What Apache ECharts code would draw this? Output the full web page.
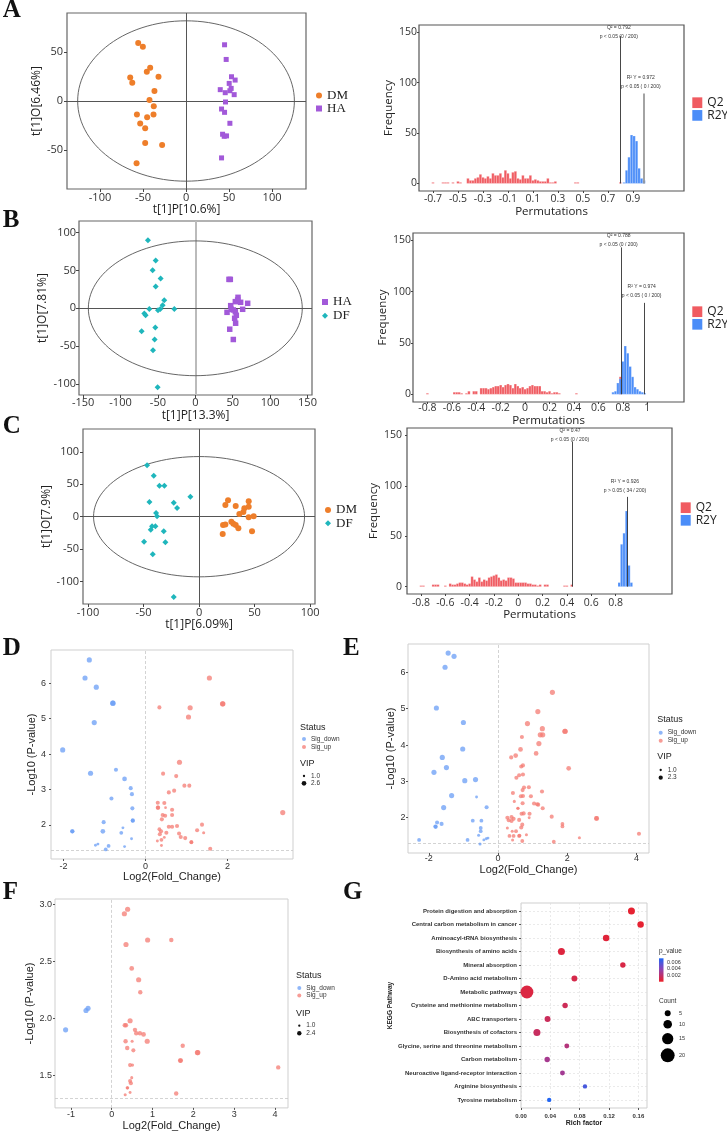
<!DOCTYPE html>
<html><head><meta charset="utf-8">
<script src="https://cdn.jsdelivr.net/npm/echarts@6/dist/echarts.min.js"></script>
<style>html,body{margin:0;padding:0;background:#fff}#c{width:727px;height:1132px}</style>
</head><body><div id="c"></div><script>
// ---------------- DATA ----------------
const pcaA_DM = [[-55.6,59.2],[-50.2,55.4],[-64.9,24.1],[-62.5,18.7],[-45.6,29.9],[-41.7,34.0],[-32.0,24.8],[-36.7,10.2],[-42.5,1.0],[-37.5,-5.4],[-57.1,-13.9],[-45.2,-16.7],[-37.8,-13.9],[-53.3,-23.1],[-47.5,-27.9],[-47.5,-42.9],[-27.8,-44.9],[-57.5,-63.6]];
const pcaA_HA = [[44.8,57.5],[46.7,42.5],[52.9,24.8],[57.1,21.4],[50.2,18.0],[39.8,11.6],[45.6,8.5],[51.0,10.5],[52.5,12.9],[56.0,6.5],[45.9,-1.0],[41.3,-8.2],[44.8,-11.6],[51.0,-22.8],[42.5,-34.0],[47.1,-35.7],[44.4,-36.1],[41.3,-58.2]];
const pcaB_HA = [[45.0,38.2],[46.8,38.2],[57.1,14.5],[53.5,8.8],[47.3,3.5],[60.6,7.9],[70.0,6.6],[63.3,-1.3],[50.8,-2.2],[53.5,-4.4],[42.4,-5.3],[54.8,-9.2],[52.6,-13.2],[53.9,-19.7],[46.0,-27.6],[50.8,-41.2],[48.0,-1.3],[56.6,11.0]];
const pcaB_DF = [[-63.3,89.9],[-53.0,63.2],[-57.1,50.4],[-46.4,39.5],[-53.0,28.9],[-41.5,10.5],[-43.7,3.9],[-61.5,-0.9],[-46.8,-0.9],[-49.9,-2.6],[-28.1,-0.9],[-68.2,-7.0],[-66.4,-9.2],[-53.5,-25.4],[-71.8,-30.3],[-54.4,-41.2],[-56.6,-55.3],[-50.4,-104.4]];
const pcaC_DM = [[26.1,25.3],[23.7,18.0],[44.7,23.7],[33.0,16.5],[40.8,12.9],[44.7,15.5],[39.9,7.2],[36.3,4.1],[49.2,0.5],[44.7,-1.0],[29.1,-7.7],[30.9,-10.8],[21.6,-12.9],[23.7,-11.9],[33.0,-12.9],[35.4,-18.0],[21.3,-26.8],[47.7,-22.7]];
const pcaC_DF = [[-46.8,79.4],[-40.8,63.4],[-35.7,47.9],[-31.2,47.9],[-7.8,30.9],[-44.7,22.7],[-22.8,21.6],[-19.8,13.4],[-38.7,5.7],[-37.8,0.5],[-42.3,-14.9],[-39.3,-14.9],[-43.5,-20.1],[-31.8,-22.7],[-49.5,-38.7],[-30.3,-39.7],[-41.7,-58.2],[-22.8,-124.2]];
const ellipseA = [126, 82];
const ellipseB = [143, 89];
const ellipseC = [95, 93];
const pcaA_xTicks = [-100,-50,0,50,100], pcaA_yTicks = [-50,0,50];
const pcaB_xTicks = [-150,-100,-50,0,50,100,150], pcaB_yTicks = [-100,-50,0,50,100];
const pcaC_xTicks = [-100,-50,0,50,100], pcaC_yTicks = [-100,-50,0,50,100];

const binWidth = 0.02;
const histA_Q2 = [[-0.70,1],[-0.62,1],[-0.60,1],[-0.58,1],[-0.54,1],[-0.50,2],[-0.48,1],
 [-0.42,5],[-0.40,3],[-0.38,3],[-0.36,5],[-0.34,6],[-0.32,9],[-0.30,6],[-0.28,5],[-0.26,7],[-0.24,5],[-0.22,10],[-0.20,8],[-0.18,8],[-0.16,10],[-0.14,6],[-0.12,13],[-0.10,10],[-0.08,5],[-0.06,11],[-0.04,12],[-0.02,5],[0.00,4],[0.02,8],[0.04,5],[0.06,5],[0.08,8],[0.10,3],[0.12,4],[0.14,3],[0.16,2],[0.18,2],[0.20,2],[0.22,5],[0.24,1],[0.26,1],[0.28,2],
 [0.44,1],[0.46,1],[0.80,1]];
const histA_R2Y = [[0.83,1],[0.85,13],[0.87,26],[0.89,48],[0.91,47],[0.93,42],[0.95,15],[0.97,5],[0.99,3]];
const histB_Q2 = [[-0.80,1],[-0.58,2],[-0.56,2],[-0.54,2],[-0.52,1],[-0.48,1],[-0.46,3],[-0.42,3],[-0.40,3],
 [-0.36,6],[-0.34,6],[-0.32,6],[-0.30,5],[-0.28,6],[-0.26,7],[-0.24,8],[-0.22,8],[-0.20,9],[-0.18,7],[-0.16,9],[-0.14,10],[-0.12,9],[-0.10,6],[-0.08,10],[-0.06,8],[-0.04,6],[-0.02,7],[0.00,5],[0.02,6],[0.04,8],[0.06,9],[0.08,8],[0.10,8],[0.12,8],[0.14,3],[0.16,3],[0.18,2],[0.20,3],[0.22,1],[0.24,2],[0.26,2],[0.28,1],
 [0.42,1],[0.78,17]];
const histB_R2Y = [[0.72,2],[0.74,3],[0.76,11],[0.78,15],[0.80,32],[0.82,47],[0.84,40],[0.86,27],[0.88,17],[0.90,7],[0.92,5],[0.94,3],[0.96,2],[0.98,1]];
const histC_Q2 = [[-0.80,1],[-0.78,1],[-0.70,2],[-0.68,2],[-0.66,2],[-0.60,1],[-0.56,3],[-0.54,2],[-0.52,2],[-0.50,3],[-0.48,4],[-0.46,4],[-0.44,3],[-0.42,2],[-0.40,3],
 [-0.38,10],[-0.36,7],[-0.34,5],[-0.32,9],[-0.30,5],[-0.28,7],[-0.26,6],[-0.24,9],[-0.22,10],[-0.20,11],[-0.18,12],[-0.16,9],[-0.14,6],[-0.12,7],[-0.10,6],[-0.08,9],[-0.06,9],[-0.04,8],[-0.02,4],[0.00,4],[0.02,4],[0.04,4],[0.06,4],[0.08,3],[0.10,3],[0.12,2],[0.14,2],[0.16,1],[0.18,2],[0.22,2],[0.24,2],
 [0.38,1],[0.40,1],[0.44,2]];
const histC_R2Y = [[0.83,4],[0.85,42],[0.87,53],[0.89,75],[0.91,21],[0.93,4]];
const histA_xTicks = [-0.7,-0.5,-0.3,-0.1,0.1,0.3,0.5,0.7,0.9];
const histB_xTicks = [-0.8,-0.6,-0.4,-0.2,0,0.2,0.4,0.6,0.8,1];
const histC_xTicks = [-0.8,-0.6,-0.4,-0.2,0,0.2,0.4,0.6,0.8];
const hist_yTicks = [0,50,100,150];
// permutation test lines: [lineX, lineTop, labelX, labelY, line1, line2]
const permA_Q2 = [0.803, 146, 0.788, 150, 'Q² = 0.792', 'p < 0.05 (0 / 200)'];
const permA_R2 = [0.985, 89, 0.964, 100, 'R² Y = 0.972', 'p < 0.05 ( 0 / 200)'];
const permB_Q2 = [0.787, 143, 0.766, 150, 'Q² = 0.788', 'p < 0.05 (0 / 200)'];
const permB_R2 = [0.976, 89, 0.954, 100, 'R² Y = 0.974', 'p < 0.05 ( 0 / 200)'];
const permC_Q2 = [0.447, 144, 0.425, 150, 'Q² = 0.47', 'p < 0.05 (0 / 200)'];
const permC_R2 = [0.896, 89, 0.877, 100, 'R² Y = 0.926', 'p > 0.05 ( 34 / 200)'];

const pThreshold = 1.301;
// volcano points: [log2FC, -log10 p, VIP]
const volD_down = [[-1.37,6.66,2.9],[-1.475,6.15,2.9],[-1.2,5.89,2.9],[-0.79,5.44,2.9],[-0.80,5.44,2.9],[-1.25,4.89,2.9],[-2.02,4.12,2.9],[-1.34,3.46,2.9],[-0.72,3.56,2.2],[-0.51,3.30,2.6],[-0.36,3.04,2.2],[-0.33,2.87,2.2],[-0.83,2.75,2.2],[-0.32,2.47,2.2],[-0.31,2.12,2.2],[-0.31,2.13,2.2],[-1.02,2.08,2.2],[-1.78,1.82,2.2],[-1.79,1.82,2.2],[-1.04,1.82,2.6],[-0.59,1.78,2.0],[-0.55,1.92,1.4],[-0.34,1.61,1.4],[-1.16,1.46,1.4],[-1.22,1.43,1.4],[-0.90,1.41,2.0],[-0.97,1.31,2.0],[-0.51,1.39,1.4]];
const volD_up = [[1.56,6.15,2.9],[1.88,5.42,2.9],[1.89,5.42,2.9],[0.34,5.32,2.2],[1.09,5.31,2.9],[1.05,5.05,2.9],[0.83,3.77,2.9],[0.43,3.45,2.2],[0.75,3.38,2.2],[0.95,3.11,2.2],[1.07,3.11,2.2],[0.70,2.97,2.2],[0.57,2.92,2.2],[0.30,2.63,2.2],[0.46,2.62,2.2],[0.30,2.49,2.2],[0.31,2.49,2.2],[0.49,2.49,1.3],[0.65,2.43,2.2],[3.35,2.35,2.9],[0.42,2.28,2.2],[0.48,2.26,2.2],[0.65,2.28,2.2],[0.40,2.16,2.2],[0.57,1.95,2.2],[0.65,1.95,2.2],[0.77,1.97,2.2],[1.38,2.01,2.2],[0.38,1.82,2.2],[0.51,1.78,2.2],[0.82,1.76,2.2],[1.26,1.85,2.2],[1.42,1.78,1.5],[0.35,1.74,2.2],[0.86,1.66,2.2],[0.97,1.63,2.2],[0.46,1.65,1.4],[0.29,1.55,1.4],[0.39,1.58,2.0],[1.12,1.51,2.0],[1.12,1.52,2.0],[0.39,1.42,1.4],[1.58,1.33,2.2],[0.34,1.88,2.0]];
const volE_down = [[-1.44,6.53,2.9],[-1.27,6.44,2.9],[-1.53,6.14,2.9],[-1.78,5.02,2.9],[-1.0,4.62,2.9],[-1.02,3.89,2.9],[-1.61,3.66,2.9],[-1.49,3.38,2.9],[-1.85,3.25,2.9],[-0.96,3.02,2.9],[-0.65,3.05,2.9],[-1.34,2.61,2.9],[-0.62,2.57,1.4],[-1.57,2.28,2.9],[-0.33,2.29,2.2],[-1.76,1.87,2.2],[-1.63,1.83,2.2],[-1.80,1.75,2.2],[-1.81,1.76,2.2],[-0.73,1.92,2.0],[-0.48,1.92,2.0],[-0.50,1.72,2.0],[-0.50,1.63,2.0],[-0.56,1.52,1.5],[-2.28,1.39,2.0],[-0.88,1.39,2.0],[-0.41,1.39,1.4],[-0.34,1.42,1.4],[-0.29,1.44,1.4],[-0.52,1.28,1.5]];
const volE_up = [[1.57,5.45,2.9],[1.15,4.92,2.9],[0.85,4.59,2.9],[1.28,4.45,2.9],[1.22,4.28,2.9],[1.29,4.28,2.9],[1.93,4.38,2.9],[1.94,4.38,2.9],[0.69,4.22,2.2],[1.18,4.04,2.9],[0.65,3.88,2.6],[1.10,3.77,2.6],[0.38,3.66,2.2],[0.51,3.71,2.6],[0.67,3.41,2.2],[0.72,3.44,2.2],[2.04,3.36,2.6],[0.61,3.17,2.2],[0.72,3.19,2.2],[0.53,3.10,2.2],[0.75,2.83,2.2],[0.89,2.84,2.2],[0.71,2.76,2.2],[0.43,2.68,2.2],[1.27,2.72,2.2],[0.66,2.59,2.2],[0.72,2.60,2.2],[0.95,2.59,2.2],[0.47,2.45,1.5],[0.71,2.40,2.2],[1.04,2.39,2.2],[1.13,2.37,2.2],[1.16,2.36,2.2],[1.29,2.26,2.2],[0.57,2.26,1.5],[0.58,2.26,1.5],[0.68,2.11,2.2],[0.74,2.12,2.2],[0.91,2.11,2.2],[0.90,2.00,1.4],[0.27,2.00,2.2],[0.31,1.93,2.2],[0.39,2.02,2.2],[0.39,1.91,2.2],[0.45,1.97,2.2],[0.61,1.94,2.2],[0.70,1.81,2.2],[0.67,1.73,2.2],[0.27,1.72,1.5],[0.41,1.63,1.5],[0.52,1.63,2.0],[0.33,1.50,2.0],[0.45,1.50,2.0],[0.61,1.50,2.0],[0.62,1.51,2.0],[0.82,1.53,1.5],[0.42,1.39,1.5],[0.70,1.36,2.0],[1.55,2.03,2.2],[1.86,1.83,2.0],[1.86,1.76,2.0],[2.84,1.98,2.6],[2.85,1.98,2.6],[2.35,1.45,1.5],[1.61,1.34,2.0],[4.07,1.56,2.2]];
const volF_down = [[-0.58,2.09,2.9],[-0.63,2.07,2.9],[-1.13,1.90,2.9]];
const volF_up = [[0.39,2.96,2.9],[0.31,2.92,2.9],[0.88,2.69,2.9],[1.46,2.69,2.4],[0.35,2.65,2.9],[0.49,2.44,2.6],[0.66,2.34,2.9],[0.70,2.23,2.4],[0.45,1.98,2.9],[0.32,1.94,2.4],[0.35,1.94,2.4],[0.57,1.90,2.4],[0.60,1.87,2.4],[0.69,1.87,2.4],[0.78,1.86,2.6],[0.87,1.80,2.9],[0.34,1.80,2.4],[0.50,1.80,1.5],[0.38,1.74,2.4],[0.53,1.72,2.2],[1.74,1.76,2.4],[2.10,1.70,2.9],[2.11,1.70,2.9],[1.68,1.63,2.6],[1.69,1.63,2.6],[0.45,1.59,2.2],[0.51,1.59,1.5],[4.08,1.57,2.4],[0.49,1.48,1.5],[0.45,1.45,2.2],[0.47,1.43,2.2],[0.38,1.39,1.6],[0.39,1.39,1.6],[0.45,1.35,1.4],[1.58,1.34,2.4],[0.33,1.33,1.5]];
const volD_xTicks = [-2,0,2], volD_yTicks = [2,3,4,5,6];
const volE_xTicks = [-2,0,2,4], volE_yTicks = [2,3,4,5,6];
const volF_xTicks = [-1,0,1,2,3,4], volF_yTicks = [1.5,2.0,2.5,3.0];
const vipLegendD = [1.0, 2.6], vipLegendE = [1.0, 2.3], vipLegendF = [1.0, 2.4];

const keggPathways = ['Protein digestion and absorption','Central carbon metabolism in cancer','Aminoacyl-tRNA biosynthesis','Biosynthesis of amino acids','Mineral absorption','D-Amino acid metabolism','Metabolic pathways','Cysteine and methionine metabolism','ABC transporters','Biosynthesis of cofactors','Glycine, serine and threonine metabolism','Carbon metabolism','Neuroactive ligand-receptor interaction','Arginine biosynthesis','Tyrosine metabolism'];
const keggRich = [0.1505,0.163,0.116,0.0551,0.1388,0.0728,0.0081,0.0601,0.0362,0.0217,0.0624,0.0357,0.0565,0.0872,0.0384];
const keggCount = [7,6,6,7,4,5,18,4,5,7,3,4,3,2,2];
const keggP = [0.0003,0.0003,0.0005,0.0006,0.0008,0.0009,0.0007,0.0012,0.0013,0.0014,0.0021,0.0026,0.0027,0.0058,0.0071];
const kegg_xTicks = [0,0.04,0.08,0.12,0.16];
const keggColorTicks = [0.006,0.004,0.002];
const keggCountLegend = [5,10,15,20];

// ---------------- STYLE ----------------
const SANS = '"Open Sans", "Noto Sans", sans-serif';
const ARIAL = '"Liberation Sans", Arial, sans-serif';
const SERIF = '"Liberation Serif", "Times New Roman", serif';
const C_DM = '#EE7E2A', C_HA = '#A259D9', C_DF = '#1FB6BC';
const C_Q2 = '#F05B61', C_R2 = '#4B8DF8';
const C_DOWN = '#6A9EF5', C_UP = '#F47B73';
const vipSize = v => 2.3 + 1.5 * (v - 1);
const countSize = c => 3.3 + 0.53 * c;

const grids = [], xAxes = [], yAxes = [], series = [], legends = [], graphics = [];

function vAxis(gi, o) {
  return {
    gridIndex: gi, type: 'value', min: o.min, max: o.max, inverse: !!o.inverse,
    name: o.name, nameLocation: 'middle', nameGap: o.nameGap,
    nameTextStyle: {fontFamily: o.font, fontSize: o.nameSize, color: '#222', fontWeight: o.nameWeight || 'normal'},
    axisLine: {show: false, onZero: false},
    axisTick: {show: true, length: o.tickLen || 3, lineStyle: {color: o.tickColor || '#444', width: 1}, customValues: o.ticks},
    axisLabel: Object.assign({show: true, customValues: o.ticks, margin: o.margin, fontFamily: o.font, fontSize: o.labelSize, color: '#333', fontWeight: o.labelWeight || 'normal'}, o.formatter ? {formatter: o.formatter} : {}),
    splitLine: {show: false}
  };
}

// ---------- PCA ----------
function pcaPanel(g, xr, yr, xt, yt, xname, yname, gaps, s1, s2, ell, vLineStyle, leg) {
  grids.push({left: g[0], top: g[1], width: g[2], height: g[3], show: true, borderColor: '#666', borderWidth: 1.2, backgroundColor: '#fff'});
  const gi = grids.length - 1;
  xAxes.push(vAxis(gi, {min: xr[0], max: xr[1], ticks: xt, name: xname, nameGap: gaps[0], font: SANS, nameSize: 12, labelSize: 11, margin: gaps[2]}));
  yAxes.push(vAxis(gi, {min: yr[0], max: yr[1], ticks: yt, name: yname, nameGap: gaps[1], font: SANS, nameSize: 12, labelSize: 11, margin: gaps[3]}));
  series.push({type: 'custom', xAxisIndex: gi, yAxisIndex: gi, data: [ell], silent: true, z: 1,
    renderItem: (p, api) => {
      const a = api.value(0), b = api.value(1), pts = [];
      for (let k = 0; k <= 120; k++) { const t = k / 120 * 2 * Math.PI; pts.push(api.coord([a * Math.cos(t), b * Math.sin(t)])); }
      return {type: 'polyline', shape: {points: pts}, style: {fill: null, stroke: '#555', lineWidth: 0.9}};
    }});
  [s1, s2].forEach((s, i) => {
    const ser = {type: 'scatter', name: s.name, xAxisIndex: gi, yAxisIndex: gi, data: s.data, symbol: s.symbol, symbolSize: s.size, itemStyle: {color: s.color, opacity: 1}, z: 3};
    if (i === 0) ser.markLine = {silent: true, z: 1, symbol: ['none', 'none'], label: {show: false}, lineStyle: {color: '#555', width: 1, type: 'solid'},
      data: [Object.assign({xAxis: 0}, vLineStyle ? {lineStyle: vLineStyle} : {}), {yAxis: 0}]};
    series.push(ser);
  });
  legends.push({left: leg[0], top: leg[1], orient: 'vertical', padding: 0, itemGap: leg[3], itemWidth: 6, itemHeight: 6, selectedMode: false,
    data: [s1.name, s2.name], textStyle: {fontFamily: SERIF, fontSize: 13, color: '#222', lineHeight: leg[2]}});
}

pcaPanel([67, 13, 239, 176], [-138.4, 139.5], [-90, 90], pcaA_xTicks, pcaA_yTicks, 't[1]P[10.6%]', 't[1]O[6.46%]', [15, 21, 3, 4],
  {name: 'DM', data: pcaA_DM, symbol: 'circle', size: 6, color: C_DM}, {name: 'HA', data: pcaA_HA, symbol: 'rect', size: 5, color: C_HA}, ellipseA, null, [316, 89, 12, 0]);
pcaPanel([79, 221, 233, 174], [-155.5, 156], [-114.5, 115.3], pcaB_xTicks, pcaB_yTicks, 't[1]P[13.3%]', 't[1]O[7.81%]', [14, 30, 2.5, 3],
  {name: 'HA', data: pcaB_HA, symbol: 'rect', size: 5.5, color: C_HA}, {name: 'DF', data: pcaB_DF, symbol: 'diamond', size: 6, color: C_DF}, ellipseB, {color: '#bbb', width: 2}, [322, 295.5, 13, 0.7]);
pcaPanel([83, 429, 232, 175], [-104.5, 104.4], [-135, 135.6], pcaC_xTicks, pcaC_yTicks, 't[1]P[6.09%]', 't[1]O[7.9%]', [15, 26.5, 3, 4],
  {name: 'DM', data: pcaC_DM, symbol: 'circle', size: 6, color: C_DM}, {name: 'DF', data: pcaC_DF, symbol: 'diamond', size: 6, color: C_DF}, ellipseC, null, [325, 503.4, 13, 0.3]);

// ---------- Permutation histograms ----------
function histSeries(gi, name, data, color) {
  return {type: 'custom', name, xAxisIndex: gi, yAxisIndex: gi, data, itemStyle: {color}, z: 2,
    renderItem: (p, api) => {
      const x = api.value(0), c = api.value(1);
      const a = api.coord([x - binWidth / 2, c]), b = api.coord([x + binWidth / 2, 0]);
      return {type: 'rect', shape: {x: a[0], y: a[1], width: b[0] - a[0], height: b[1] - a[1]}, style: {fill: color, stroke: 'rgba(255,255,255,0.55)', lineWidth: 0.4}};
    }};
}
function permPanel(g, xr, yr, xt, q2data, r2data, q2, r2, r2color, gaps, leg) {
  grids.push({left: g[0], top: g[1], width: g[2], height: g[3], show: true, borderColor: '#555', borderWidth: 1.2, backgroundColor: '#fff'});
  const gi = grids.length - 1;
  xAxes.push(vAxis(gi, {min: xr[0], max: xr[1], ticks: xt, name: 'Permutations', nameGap: gaps[0], font: SANS, nameSize: 11.5, labelSize: 10.5, margin: gaps[2], tickLen: 2}));
  yAxes.push(vAxis(gi, {min: yr[0], max: yr[1], ticks: hist_yTicks, name: 'Frequency', nameGap: gaps[1], font: SANS, nameSize: 11.5, labelSize: 10.5, margin: gaps[3], tickLen: 2}));
  series.push(histSeries(gi, 'Q2', q2data, C_Q2));
  series.push(histSeries(gi, 'R2Y', r2data, C_R2));
  const lines = [[q2, '#333', 0.9], [r2, r2color, r2color === '#333' ? 0.9 : 1.8]];
  series.push({type: 'line', xAxisIndex: gi, yAxisIndex: gi, data: [], silent: true, z: 4,
    markLine: {silent: true, z: 6, symbol: ['none', 'arrow'], symbolSize: [0, 4], label: {show: false},
      data: lines.map(l => [{coord: [l[0][0], l[0][1]], lineStyle: {color: l[1], width: l[2], type: 'solid'}}, {coord: [l[0][0], 0]}])},
    markPoint: {silent: true, z: 7, data: lines.map(l => ({coord: [l[0][2], l[0][3]], symbol: 'rect', symbolSize: 1, itemStyle: {color: 'rgba(0,0,0,0)'},
      label: {show: true, position: 'inside', formatter: l[0][4] + '\n' + l[0][5], fontSize: 5, lineHeight: 9, color: '#333', fontFamily: ARIAL}}))}
  });
  legends.push({left: leg[0], top: leg[1], orient: 'vertical', padding: 0, itemGap: leg[2], itemWidth: 10, itemHeight: 10.7, selectedMode: false,
    data: [{name: 'Q2', icon: 'rect'}, {name: 'R2Y', icon: 'rect'}], textStyle: {fontFamily: SANS, fontSize: 12, color: '#222', lineHeight: 11}});
}
permPanel([419, 25, 265, 166], [-0.812, 1.31], [-7.5, 157], histA_xTicks, histA_Q2, histA_R2Y, permA_Q2, permA_R2, '#9a9a9a', [13, 22.7, 3, 2], [692.3, 96.7, 0.7]);
permPanel([413, 233, 271, 169], [-0.918, 1.301], [-7.5, 157], histB_xTicks, histB_Q2, histB_R2Y, permB_Q2, permB_R2, '#333', [8.8, 17, 1, 2], [692.3, 305.7, 0.6]);
permPanel([407, 428, 265, 166], [-0.915, 1.264], [-7.3, 157.3], histC_xTicks, histC_Q2, histC_R2Y, permC_Q2, permC_R2, '#333', [12.7, 22, 3.3, 5], [680.7, 501.7, 0.6]);

// ---------- Volcano ----------
function volPanel(g, xr, yr, xt, yt, down, up, gaps, leg, vipVals, yFmt) {
  grids.push({left: g[0], top: g[1], width: g[2], height: g[3], show: true, borderColor: '#cfcfcf', borderWidth: 1, backgroundColor: '#fff'});
  const gi = grids.length - 1;
  xAxes.push(vAxis(gi, {min: xr[0], max: xr[1], ticks: xt, name: 'Log2(Fold_Change)', nameGap: gaps[0], font: ARIAL, nameSize: 11, labelSize: 9, margin: gaps[2], tickLen: 2, tickColor: '#555'}));
  yAxes.push(vAxis(gi, {min: yr[0], max: yr[1], ticks: yt, name: '-Log10 (P-value)', nameGap: gaps[1], font: ARIAL, nameSize: 11, labelSize: 9, margin: gaps[3], tickLen: 2, tickColor: '#555', formatter: yFmt}));
  series.push({type: 'scatter', name: 'Sig_down', xAxisIndex: gi, yAxisIndex: gi, data: down, symbolSize: v => vipSize(v[2]), itemStyle: {color: C_DOWN, opacity: 0.75}, z: 3,
    markLine: {silent: true, z: 1, symbol: ['none', 'none'], label: {show: false}, lineStyle: {color: '#c8c8c8', type: [3, 2], width: 0.8}, data: [{xAxis: 0}, {yAxis: pThreshold}]}});
  series.push({type: 'scatter', name: 'Sig_up', xAxisIndex: gi, yAxisIndex: gi, data: up, symbolSize: v => vipSize(v[2]), itemStyle: {color: C_UP, opacity: 0.75}, z: 3});
  const [tx, sy, ix, dy, uy, vy, v1, v2] = leg;
  legends.push({left: ix - 2, top: dy - 4, orient: 'vertical', padding: 0, itemGap: 0, itemWidth: 4, itemHeight: 4, selectedMode: false, icon: 'circle',
    data: ['Sig_down', 'Sig_up'], textStyle: {fontFamily: ARIAL, fontSize: 6.5, color: '#333', lineHeight: uy - dy}});
  graphics.push({type: 'text', x: tx, y: sy, style: {text: 'Status', font: '9px ' + ARIAL, fill: '#222', textVerticalAlign: 'middle'}});
  graphics.push({type: 'text', x: tx, y: vy, style: {text: 'VIP', font: '9px ' + ARIAL, fill: '#222', textVerticalAlign: 'middle'}});
  [[vipVals[0], v1], [vipVals[1], v2]].forEach(([val, yy]) => {
    graphics.push({type: 'circle', shape: {cx: ix, cy: yy, r: vipSize(val) / 2}, style: {fill: '#111'}});
    graphics.push({type: 'text', x: ix + 7, y: yy, style: {text: val.toFixed(1), font: '6.5px ' + ARIAL, fill: '#333', textVerticalAlign: 'middle'}});
  });
}
volPanel([51, 650, 242, 209], [-2.305, 3.6], [1.04, 6.94], volD_xTicks, volD_yTicks, volD_down, volD_up, [11, 7, 3, 5],
  [300, 727.3, 304, 739, 747, 764, 776, 783.3], vipLegendD, null);
volPanel([408, 644, 241, 209], [-2.6, 4.36], [1.03, 6.78], volE_xTicks, volE_yTicks, volE_down, volE_up, [9, 8, 1.5, 2.6],
  [657.3, 720, 660.7, 732.7, 740.7, 756.7, 770, 777.7], vipLegendE, null);
volPanel([55, 899, 233, 210], [-1.39, 4.32], [1.214, 3.05], volF_xTicks, volF_yTicks, volF_down, volF_up, [10.5, 14.5, 2.2, 3],
  [296, 976, 299.3, 988.3, 995.7, 1013.3, 1025.7, 1033.3], vipLegendF, v => v.toFixed(1));

// ---------- KEGG ----------
grids.push({left: 521, top: 903, width: 126, height: 205, show: true, borderColor: '#cfcfcf', borderWidth: 1, backgroundColor: '#fff'});
const gG = grids.length - 1;
xAxes.push(vAxis(gG, {min: 0, max: 0.1717, ticks: kegg_xTicks, name: 'Rich factor', nameGap: 12, font: ARIAL, nameSize: 7, nameWeight: 'bold', labelSize: 6, labelWeight: 'bold', margin: 5, tickLen: 2, tickColor: '#555', formatter: v => v.toFixed(2)}));
yAxes.push(vAxis(gG, {min: -0.6, max: 14.6, inverse: true, ticks: keggPathways.map((_, i) => i), name: 'KEGG Pathway', nameGap: 125, font: ARIAL, nameSize: 6.5, nameWeight: 'bold', labelSize: 6, labelWeight: 'bold', margin: 4, tickLen: 2, tickColor: '#555', formatter: v => keggPathways[Math.round(v)] || ''}));
series.push({type: 'line', xAxisIndex: gG, yAxisIndex: gG, data: [], silent: true, z: 1,
  markLine: {silent: true, z: 1, symbol: ['none', 'none'], label: {show: false}, lineStyle: {color: '#dcdcdc', type: [2, 2], width: 0.6},
    data: kegg_xTicks.map(v => ({xAxis: v})).concat(keggPathways.map((_, i) => ({yAxis: i})))}});
series.push({type: 'scatter', name: 'KEGG', xAxisIndex: gG, yAxisIndex: gG, z: 3,
  data: keggRich.map((r, i) => [r, i, keggP[i], keggCount[i]]), symbolSize: v => countSize(v[3]), itemStyle: {opacity: 1}});
const keggSeriesIndex = series.length - 1;
graphics.push({type: 'text', x: 659, y: 951.7, style: {text: 'p_value', font: '6.5px ' + ARIAL, fill: '#333', textVerticalAlign: 'middle'}});
graphics.push({type: 'rect', shape: {x: 659, y: 958.3, width: 4.5, height: 23.4}, style: {fill: new echarts.graphic.LinearGradient(0, 0, 0, 1, [{offset: 0, color: '#1E66F5'}, {offset: 0.45, color: '#8A45B8'}, {offset: 1, color: '#EE1F26'}])}});
keggColorTicks.forEach((v, i) => graphics.push({type: 'text', x: 667, y: 962.3 + i * 6.5, style: {text: v.toFixed(3), font: '5.5px ' + ARIAL, fill: '#333', textVerticalAlign: 'middle'}}));
graphics.push({type: 'text', x: 659, y: 1001.7, style: {text: 'Count', font: '6.5px ' + ARIAL, fill: '#333', textVerticalAlign: 'middle'}});
[1013.3, 1024.3, 1038.7, 1055.3].forEach((yy, i) => {
  graphics.push({type: 'circle', shape: {cx: 667.7, cy: yy, r: countSize(keggCountLegend[i]) / 2}, style: {fill: '#000'}});
  graphics.push({type: 'text', x: 679, y: yy, style: {text: String(keggCountLegend[i]), font: '5.5px ' + ARIAL, fill: '#333', textVerticalAlign: 'middle'}});
});

// ---------- Panel letters ----------
[['A', 2.7, 11], ['B', 2.7, 221], ['C', 2.7, 426.5], ['D', 2.7, 648.5], ['E', 343, 648.5], ['F', 2.7, 892.5], ['G', 343, 892.5]].forEach(([t, x, y]) =>
  graphics.push({type: 'text', x, y, style: {text: t, font: 'bold 25px ' + SERIF, fill: '#111', textVerticalAlign: 'middle'}}));

const chart = echarts.init(document.getElementById('c'), null, {width: 727, height: 1132});
chart.setOption({
  backgroundColor: '#fff', animation: false,
  grid: grids, xAxis: xAxes, yAxis: yAxes, series, legend: legends,
  visualMap: [{type: 'continuous', show: false, seriesIndex: keggSeriesIndex, dimension: 2, min: 0, max: 0.0072, inRange: {color: ['#EE1F26', '#8A45B8', '#1E66F5']}}],
  graphic: graphics
});
</script></body></html>
